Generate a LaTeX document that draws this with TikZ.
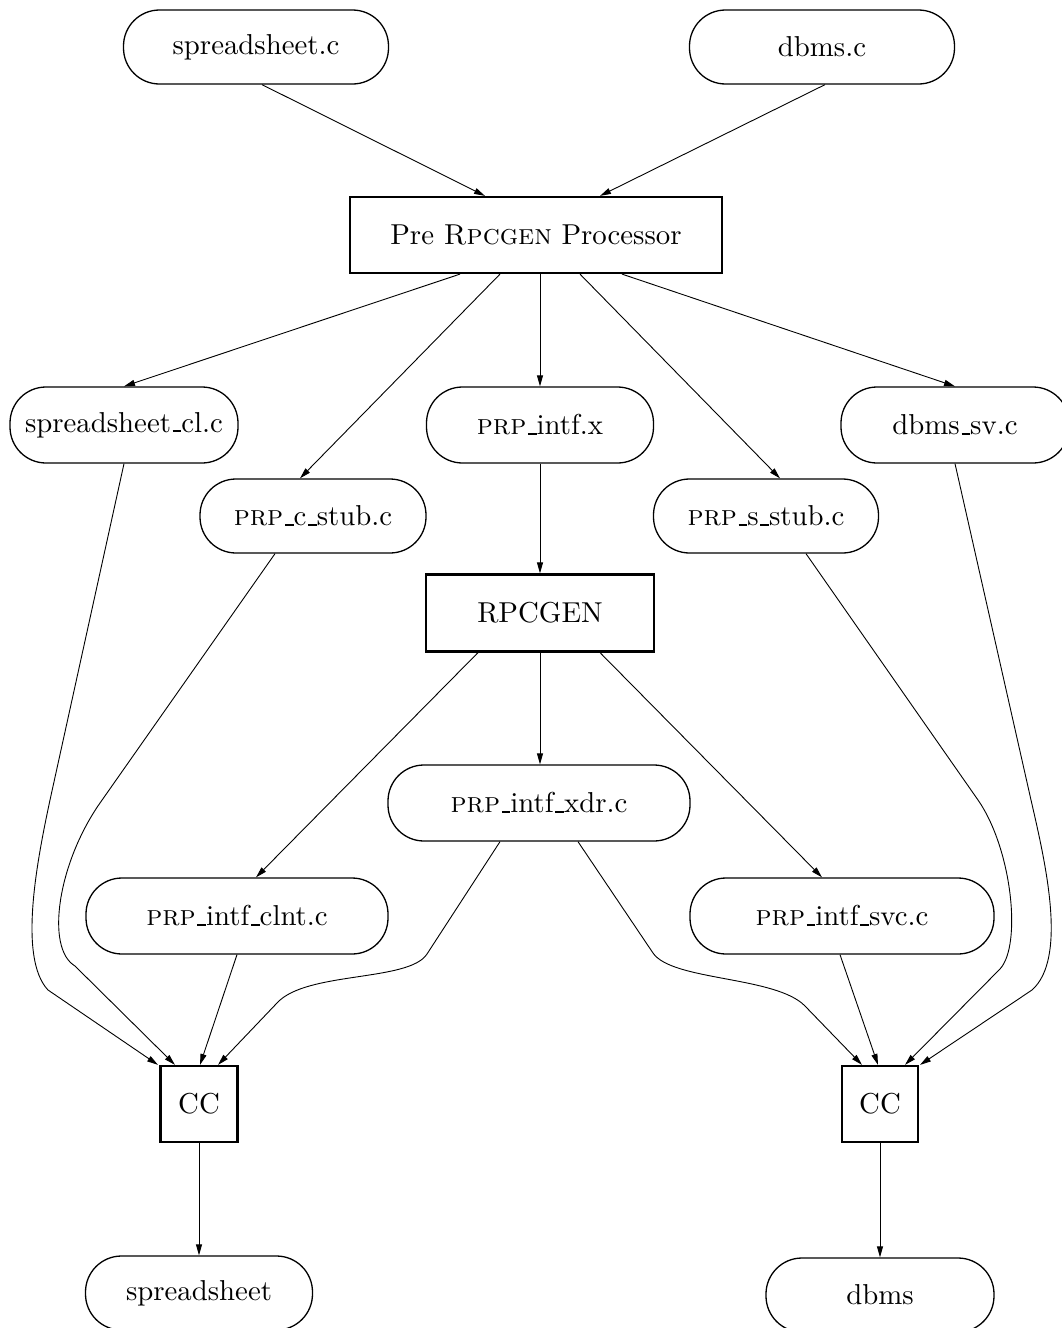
\documentclass[tikz,border=0pt]{standalone}
\usepackage{graphicx}
\usetikzlibrary{arrows.meta}
% labels are set at 10pt and enlarged, so the 10pt design size is kept
\newcommand\lbl[1]{\scalebox{2.88}{#1}}
% short low rule used as the underscore in file names
\newcommand\usc{\leavevmode\kern.06em\vbox{\hrule width .3em height .07em}}
\begin{document}
\begin{tikzpicture}[x=1pt,y=-1pt,
  every node/.style={font=\fontsize{10}{12}\selectfont, inner sep=0pt},
  filebox/.style={draw, line width=1.3pt, rounded corners=36pt, minimum height=74pt},
  procbox/.style={draw, line width=2.2pt, minimum height=76pt},
  flow/.style={line width=0.9pt, -{Triangle[length=11pt,width=6pt]}}]
\useasboundingbox (0,0) rectangle (1061,1328);

% source files
\node[filebox, minimum width=265pt] (sc) at (256,47) {\lbl{spreadsheet.c}};
\node[filebox, minimum width=265pt] (dc) at (822,47) {\lbl{dbms.c}};

% preprocessor
\node[procbox, minimum width=372pt] (pre) at (536,235) {\lbl{Pre \textsc{Rpcgen} Processor}};

% preprocessor outputs
\node[filebox, minimum width=228pt, minimum height=76pt] (scl) at (124,425) {\lbl{spreadsheet\usc cl.c}};
\node[filebox, minimum width=227pt, minimum height=76pt] (intfx) at (540,425) {\lbl{\textsc{prp}\usc intf.x}};
\node[filebox, minimum width=228pt, minimum height=76pt] (dsv) at (955,425) {\lbl{dbms\usc sv.c}};
\node[filebox, minimum width=226pt] (cstub) at (313,516) {\lbl{\textsc{prp}\usc c\usc stub.c}};
\node[filebox, minimum width=225pt] (sstub) at (766,516) {\lbl{\textsc{prp}\usc s\usc stub.c}};

% rpcgen and its outputs
\node[procbox, minimum width=228pt, minimum height=77pt] (rpcgen) at (540,613) {\lbl{RPCGEN}};
\node[filebox, minimum width=302pt, minimum height=76pt] (xdr) at (539,803) {\lbl{\textsc{prp}\usc intf\usc xdr.c}};
\node[filebox, minimum width=302pt, minimum height=76pt] (clnt) at (237,916) {\lbl{\textsc{prp}\usc intf\usc clnt.c}};
\node[filebox, minimum width=304pt, minimum height=76pt] (svc) at (842,916) {\lbl{\textsc{prp}\usc intf\usc svc.c}};

% compilers
\node[procbox, minimum width=77pt] (ccl) at (199,1104) {\lbl{CC}};
\node[procbox, minimum width=76pt] (ccr) at (880,1104) {\lbl{CC}};

% executables
\node[filebox, minimum width=227pt] (ss) at (199,1293) {\lbl{spreadsheet}};
\node[filebox, minimum width=228pt] (db) at (880,1295) {\lbl{dbms}};

% into the preprocessor
\draw[flow] ([xshift=6pt]sc.south) -- ([xshift=-51pt]pre.north);
\draw[flow] ([xshift=3pt]dc.south) -- ([xshift=64pt]pre.north);

% out of the preprocessor
\draw[flow] ([xshift=-76pt]pre.south) -- (scl.north);
\draw[flow] ([xshift=-36pt]pre.south) -- ([xshift=-13pt]cstub.north);
\draw[flow] ([xshift=4pt]pre.south) -- (intfx.north);
\draw[flow] ([xshift=44pt]pre.south) -- ([xshift=14pt]sstub.north);
\draw[flow] ([xshift=86pt]pre.south) -- (dsv.north);

% rpcgen
\draw[flow] (intfx.south) -- (rpcgen.north);
\draw[flow] ([xshift=-62pt]rpcgen.south) -- ([xshift=19pt]clnt.north);
\draw[flow] (rpcgen.south) -- ([xshift=1pt]xdr.north);
\draw[flow] ([xshift=60pt]rpcgen.south) -- ([xshift=-20pt]svc.north);

% client side compilation
\draw[flow] (scl.south) -- (50,800) .. controls (37,861) and (18,958) .. (48,990)
  -- ([xshift=-41pt]ccl.north);
\draw[flow] ([xshift=-38pt]cstub.south) -- (100,803) .. controls (58,863) and (45,948) .. (75,966)
  -- ([xshift=-24pt]ccl.north);
\draw[flow] (clnt.south) -- ([xshift=1pt]ccl.north);
\draw[flow] ([xshift=-39pt]xdr.south) -- (427,954) .. controls (409,982) and (306,971) .. (277,1003)
  -- ([xshift=19pt]ccl.north);

% server side compilation
\draw[flow] ([xshift=39pt]xdr.south) -- (653,953) .. controls (672,981) and (776,976) .. (805,1006)
  -- ([xshift=-18pt]ccr.north);
\draw[flow] ([xshift=-2pt]svc.south) -- ([xshift=-2pt]ccr.north);
\draw[flow] ([xshift=40pt]sstub.south) -- (978,800) .. controls (1012,849) and (1022,945) .. (1000,969)
  -- ([xshift=25pt]ccr.north);
\draw[flow] (dsv.south) -- (1031,800) .. controls (1045,861) and (1068,958) .. (1032,990)
  -- ([xshift=40pt]ccr.north);

% linking
\draw[flow] (ccl.south) -- (ss.north);
\draw[flow] (ccr.south) -- (db.north);
\end{tikzpicture}
\end{document}
